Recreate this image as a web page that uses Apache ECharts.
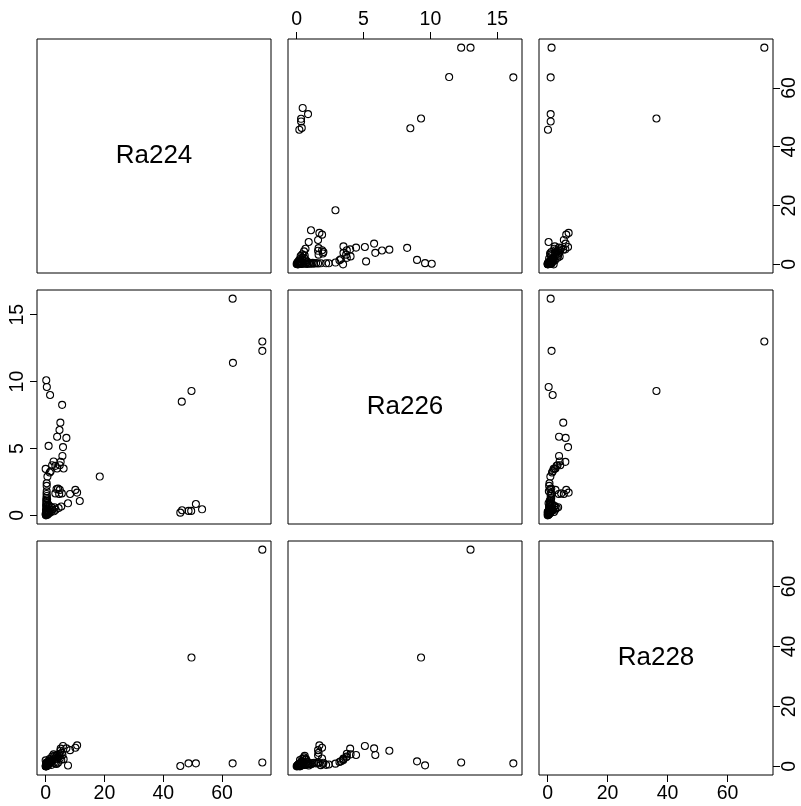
<!DOCTYPE html>
<html><head><meta charset="utf-8">
<script src="https://cdn.jsdelivr.net/npm/echarts@6/dist/echarts.min.js"></script>
<style>html,body{margin:0;padding:0;background:#fff}#c{width:801px;height:806px}</style>
</head><body><div id="c"></div>
<script>
const varNames = ['Ra224', 'Ra226', 'Ra228'];
const Ra224 = [73.7, 73.7, 63.6, 63.7, 49.6, 46.3, 45.8, 46.4, 48.6, 49.5, 51.1, 53.2, 18.4, 0.2, 0.4, 1.5,
  5.6, 5.0, 4.7, 3.9, 7.05, 1.0, 5.9, 5.7, 5.1, 2.7, 2.2, 4.8, 3.3, 3.9, 6.1, 0.0, 1.7, 1.4, 0.6, 0.35, 0.35, 0.35,
  10.7, 10.1, 8.3, 5.5, 4.6, 4.8, 4.2, 3.7, 3.3, 11.6, 7.6,
  5.3, 4.4, 3.4, 2.3,
  0.05, 0.1, 0.15, 0.2, 0.25, 0.3, 0.1, 0.4, 0.5, 0.2, 0.35, 0.6, 0.15, 0.45, 0.3, 0.2, 0.5, 0.25, 0.4, 0.3,
  0.7, 0.8, 1.0, 1.2, 1.5, 1.8, 2.0, 0.9, 1.3, 2.8, 3.0, 0.1, 0.0, 0.6, 0.2];
const Ra226 = [13.0, 12.3, 16.2, 11.4, 9.3, 8.5, 0.2, 0.38, 0.33, 0.33, 0.85, 0.45, 2.9, 10.1, 9.6, 9.0,
  8.26, 6.93, 6.38, 5.88, 5.79, 5.19, 5.1, 4.44, 4.0, 4.03, 3.75, 3.75, 3.7, 3.5, 3.5, 3.47, 3.3, 3.2, 2.9, 2.4, 2.2, 1.8,
  1.7, 1.9, 1.6, 1.64, 1.6, 1.9, 2.0, 1.96, 1.64, 1.07, 0.9,
  0.66, 0.55, 0.42, 0.42,
  0.05, 0.1, 0.2, 0.05, 0.3, 0.15, 0.4, 0.25, 0.5, 0.6, 0.7, 0.35, 0.8, 0.9, 1.0, 1.1, 1.2, 1.3, 1.45, 1.6,
  0.1, 0.2, 0.3, 0.15, 0.4, 0.25, 0.6, 0.8, 0.7, 0.3, 0.6, 0.0, 0.1, 0.05, 0.25];
const Ra228 = [72.3, 1.3, 1.0, null, 36.3, null, 0.1, null, 1.0, null, 1.0, null, null, null, 0.33, 1.67,
  null, 5.2, null, 3.8, 6.0, null, 6.8, 3.8, 5.9, 4.0, 3.3, 4.2, 3.0, 2.6, 2.4, 2.0, 1.7, 1.45, 0.9, 0.6, 0.5, 0.4,
  7.0, 6.2, 5.4, 4.5, 3.7, 2.6, 1.2, 0.8, 1.0, null, 0.3,
  2.2, 3.0, 2.5, 1.8,
  0.1, 0.2, 0.1, 0.3, 0.2, 0.5, 0.4, 0.3, 0.6, 0.5, 0.8, 0.7, 0.6, 1.0, 0.9, 0.7, 1.1, 1.2, 1.0, 1.3,
  0.4, 0.9, 1.2, 0.8, 1.5, 2.1, 0.5, 1.6, 2.4, 1.2, 3.5, 0.0, 0.05, 0.2, 0.0];
const ticks224 = [0, 20, 40, 60];
const ticks226 = [0, 5, 10, 15];
const ticks228 = [0, 20, 40, 60];

const vals = [Ra224, Ra226, Ra228];
const ticks = [ticks224, ticks226, ticks228];
function rng(a) {
  const v = a.filter(x => x != null);
  const mn = Math.min(...v), mx = Math.max(...v);
  const d = (mx - mn) * 0.04;
  return [mn - d, mx + d];
}
const FONT = "'Liberation Sans', Arial, Helvetica, sans-serif";
const lefts = [37, 288, 539], tops = [39, 290, 541], S = 234;
const grids = [], xAxes = [], yAxes = [], series = [], graphics = [];
let k = 0;
for (let i = 0; i < 3; i++) {
  for (let j = 0; j < 3; j++) {
    grids.push({left: lefts[j], top: tops[i], width: S, height: S, show: true,
      borderColor: '#000', borderWidth: 1, backgroundColor: 'transparent'});
    const rx = rng(vals[j]), ry = rng(vals[i]);
    let xPos = null;
    if (i === 0 && j === 1) xPos = 'top';
    if (i === 2 && (j === 0 || j === 2)) xPos = 'bottom';
    let yPos = null;
    if (j === 2 && (i === 0 || i === 2)) yPos = 'right';
    if (j === 0 && i === 1) yPos = 'left';
    xAxes.push({gridIndex: k, type: 'value', min: rx[0], max: rx[1], position: xPos || 'bottom',
      axisLine: {show: false, onZero: false}, splitLine: {show: false},
      axisTick: {show: !!xPos, inside: false, length: 7, customValues: ticks[j], lineStyle: {color: '#000', width: 1}},
      axisLabel: {show: !!xPos, customValues: ticks[j], margin: 9, color: '#000', fontSize: 19.5, fontFamily: FONT}});
    yAxes.push({gridIndex: k, type: 'value', min: ry[0], max: ry[1], position: yPos || 'left',
      axisLine: {show: false, onZero: false}, splitLine: {show: false},
      axisTick: {show: !!yPos, inside: false, length: 7, customValues: ticks[i], lineStyle: {color: '#000', width: 1}},
      axisLabel: {show: !!yPos, customValues: ticks[i], rotate: 90, margin: yPos === 'left' ? 19 : 17, color: '#000', fontSize: 19.5, fontFamily: FONT,
        verticalAlign: 'middle', align: 'center'}});
    if (i === j) {
      graphics.push({type: 'text', x: lefts[j] + S / 2, y: tops[i] + S / 2,
        style: {text: varNames[i], fontSize: 26, fontFamily: FONT, fill: '#000', align: 'center', verticalAlign: 'middle'}});
    } else {
      const data = [];
      for (let n = 0; n < vals[j].length; n++) {
        if (vals[j][n] != null && vals[i][n] != null) data.push([vals[j][n], vals[i][n]]);
      }
      series.push({type: 'scatter', xAxisIndex: k, yAxisIndex: k, data: data, symbol: 'circle', symbolSize: 7,
        itemStyle: {color: 'rgba(0,0,0,0)', borderColor: '#000', borderWidth: 1.1, opacity: 1},
        emphasis: {disabled: true}, silent: true, animation: false});
    }
    k++;
  }
}
const chart = echarts.init(document.getElementById('c'), null, {renderer: 'canvas'});
chart.setOption({animation: false, backgroundColor: '#fff', grid: grids, xAxis: xAxes, yAxis: yAxes, series: series, graphic: graphics});
</script></body></html>
